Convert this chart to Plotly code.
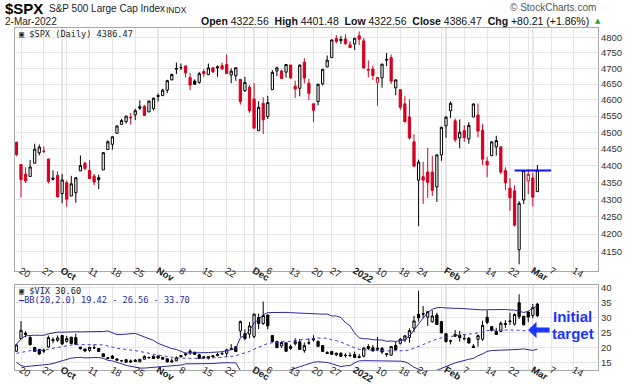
import numpy as np
import pandas as pd
import plotly.graph_objects as go

# ---------------- data ----------------
holidays = ["2021-11-25", "2021-12-24", "2022-01-17", "2022-02-21"]
first_session = "2021-09-17"
last_axis_session = "2022-03-16"

spx_open = [4469.74, 4402.95, 4374.45, 4367.43, 4406.75, 4438.04, 4442.12, 4419.54, 4362.41, 4370.67,
            4317.16, 4348.84, 4309.87, 4319.57, 4383.73, 4406.51, 4385.44, 4368.31, 4358.01, 4386.75, 4447.69,
            4463.72, 4497.34, 4524.42, 4532.24, 4546.12, 4553.69, 4578.69, 4580.22, 4562.84, 4572.87,
            4610.62, 4613.34, 4630.65, 4662.93, 4699.26, 4701.48, 4707.25, 4670.26, 4659.39, 4655.24,
            4689.30, 4679.42, 4701.50, 4700.72, 4708.44, 4712.00, 4678.48, 4675.78, 4664.63, 4628.75, 4640.25,
            4602.82, 4504.73, 4589.49, 4548.37, 4631.97, 4690.86, 4691.00, 4687.64, 4710.30, 4642.99,
            4636.46, 4719.13, 4652.50, 4587.90, 4594.96, 4650.36, 4703.96, 4733.99, 4795.49, 4788.64, 4794.23, 4775.21,
            4778.14, 4804.51, 4787.99, 4693.39, 4697.66, 4655.34, 4669.14, 4728.59, 4733.56, 4637.99,
            4632.24, 4588.03, 4547.35, 4471.38, 4356.32, 4366.64, 4380.58, 4380.58, 4336.19, 4431.79,
            4519.57, 4566.39, 4535.41, 4482.79, 4505.75, 4480.02, 4547.00, 4553.24, 4506.27, 4412.61,
            4429.28, 4455.75, 4456.06, 4384.57, 4332.74, 4324.93, 4155.77, 4298.38, 4354.17,
            4363.14, 4322.56]
spx_high = [4471.52, 4402.95, 4394.87, 4416.75, 4465.40, 4463.12, 4457.30, 4419.54, 4385.57, 4382.55,
            4375.19, 4355.51, 4369.23, 4365.57, 4429.97, 4412.02, 4415.88, 4374.89, 4372.87, 4439.73, 4475.82,
            4488.75, 4520.40, 4540.87, 4551.44, 4559.67, 4572.62, 4598.53, 4584.57, 4597.55, 4608.08,
            4620.34, 4635.15, 4663.46, 4683.00, 4718.50, 4714.92, 4708.53, 4684.85, 4664.55, 4688.47,
            4697.42, 4714.95, 4701.50, 4708.80, 4717.75, 4743.83, 4699.39, 4702.87, 4664.63, 4672.95, 4646.02,
            4652.94, 4595.46, 4608.03, 4612.60, 4694.04, 4705.06, 4695.26, 4713.57, 4710.30, 4660.47,
            4712.60, 4731.99, 4666.70, 4587.90, 4651.14, 4697.67, 4740.74, 4791.49, 4807.02, 4804.06, 4808.93, 4786.83,
            4796.64, 4818.62, 4797.70, 4725.01, 4707.95, 4673.02, 4714.13, 4748.83, 4744.13, 4665.13,
            4632.24, 4611.55, 4602.11, 4494.52, 4417.35, 4411.01, 4453.23, 4428.74, 4432.72, 4516.89,
            4550.49, 4595.31, 4542.88, 4539.66, 4521.86, 4531.32, 4590.03, 4588.92, 4526.33, 4426.22,
            4472.77, 4489.55, 4456.06, 4394.60, 4362.12, 4341.51, 4294.73, 4385.34, 4388.84,
            4378.45, 4401.48]
spx_low = [4427.76, 4305.91, 4347.96, 4367.43, 4406.75, 4430.27, 4436.19, 4346.33, 4355.08, 4306.24,
           4288.52, 4278.94, 4309.87, 4290.49, 4383.73, 4386.22, 4360.59, 4342.09, 4329.92, 4386.75, 4447.69,
           4447.47, 4496.41, 4524.40, 4526.89, 4524.00, 4537.36, 4569.17, 4551.66, 4562.84, 4567.59,
           4595.06, 4613.34, 4621.19, 4662.59, 4681.32, 4694.39, 4670.87, 4630.86, 4648.31, 4650.77,
           4672.86, 4679.42, 4684.41, 4672.78, 4694.22, 4682.17, 4652.66, 4659.89, 4585.43, 4625.26, 4560.00,
           4510.27, 4504.73, 4495.12, 4540.51, 4631.97, 4674.52, 4665.98, 4670.24, 4667.60, 4606.52,
           4611.22, 4651.89, 4600.22, 4531.10, 4583.16, 4645.53, 4703.96, 4733.99, 4780.04, 4778.08, 4775.33, 4765.75,
           4758.17, 4774.27, 4699.44, 4671.26, 4662.74, 4582.24, 4638.27, 4706.71, 4650.29, 4614.75,
           4568.70, 4530.20, 4477.95, 4395.34, 4222.62, 4287.11, 4304.80, 4309.50, 4292.46, 4414.02,
           4483.53, 4544.32, 4470.39, 4451.50, 4471.47, 4465.40, 4547.00, 4484.31, 4401.41, 4364.84,
           4429.28, 4429.68, 4373.81, 4327.22, 4267.11, 4221.51, 4114.65, 4286.83, 4315.12,
           4279.54, 4322.56]
spx_close = [4432.99, 4357.73, 4354.19, 4395.64, 4448.98, 4455.48, 4443.11, 4352.63, 4359.46, 4307.54,
             4357.04, 4300.46, 4345.72, 4363.55, 4399.76, 4391.34, 4361.19, 4350.65, 4363.80, 4438.26, 4471.37,
             4486.46, 4519.63, 4536.19, 4549.78, 4544.90, 4566.48, 4574.79, 4551.68, 4596.42, 4605.38,
             4613.67, 4630.65, 4660.57, 4680.06, 4697.53, 4701.70, 4685.25, 4646.71, 4649.27, 4682.85,
             4682.80, 4700.90, 4688.67, 4704.54, 4697.96, 4682.94, 4690.70, 4701.46, 4594.62, 4655.27, 4567.00,
             4513.04, 4577.10, 4538.43, 4591.67, 4686.75, 4701.21, 4667.45, 4712.02, 4668.97, 4634.09,
             4709.85, 4668.67, 4620.64, 4568.02, 4649.23, 4696.56, 4725.79, 4791.19, 4786.35, 4793.06, 4778.73, 4766.18,
             4796.56, 4793.54, 4700.58, 4696.05, 4677.03, 4670.29, 4713.07, 4726.35, 4659.03, 4662.85,
             4577.11, 4532.76, 4482.73, 4397.94, 4410.13, 4356.45, 4349.93, 4326.51, 4431.85, 4515.55,
             4546.54, 4589.38, 4477.44, 4500.53, 4483.87, 4521.54, 4587.18, 4504.08, 4418.64, 4401.67,
             4471.07, 4475.01, 4380.26, 4348.87, 4304.76, 4225.50, 4288.70, 4384.65, 4373.94,
             4306.26, 4386.47]
spx_prev_close = 4473.75  # close of the session before the first one shown

vix_open = [18.70, 22.96, 24.70, 23.30, 19.93, 19.32, 19.08, 20.10, 22.21, 22.32,
            23.96, 22.02, 23.41, 23.27, 20.06, 19.44, 18.99, 19.82, 19.62, 17.85, 16.50,
            17.09, 16.10, 15.54, 15.84, 15.05, 15.70, 15.13, 16.01, 16.65, 17.05,
            17.06, 16.64, 16.14, 15.06, 15.50, 16.90, 17.48, 18.19, 18.40, 17.50,
            16.84, 16.89, 16.79, 17.22, 17.80, 18.01, 19.54, 20.19, 25.50, 24.53, 24.44,
            23.66, 30.01, 27.97, 30.82, 23.99, 21.99, 20.48, 21.51, 19.58, 21.20,
            21.82, 18.92, 21.39, 22.49, 21.98, 20.62, 18.31, 18.58, 17.53, 18.03, 17.24, 17.31,
            17.60, 16.57, 17.07, 20.29, 19.85, 19.72, 19.66, 17.91, 17.37, 20.62,
            21.36, 22.44, 23.30, 26.45, 31.05, 31.29, 30.15, 28.58, 30.83, 28.61,
            24.56, 22.18, 23.73, 24.09, 23.01, 23.08, 20.40, 22.68, 22.73, 30.05,
            26.96, 25.30, 25.34, 28.00, 28.61, 27.78, 34.94, 30.43, 31.84,
            30.70, 34.50]
vix_high = [21.18, 28.79, 25.40, 23.90, 20.16, 19.40, 19.60, 23.98, 23.33, 23.99,
            24.01, 23.84, 23.51, 24.59, 20.20, 19.47, 20.15, 20.95, 19.71, 17.88, 16.80,
            17.37, 16.30, 15.78, 16.16, 15.95, 16.06, 16.08, 17.29, 16.77, 17.34,
            17.37, 16.66, 16.33, 16.28, 16.99, 17.38, 18.30, 19.38, 18.43, 17.70,
            17.11, 16.90, 17.40, 18.24, 18.58, 19.52, 21.08, 20.42, 28.99, 26.04, 28.49,
            31.42, 31.30, 35.32, 31.02, 24.07, 22.13, 22.01, 21.61, 20.94, 23.06,
            22.79, 21.62, 22.94, 24.03, 22.34, 20.71, 18.64, 18.69, 18.25, 18.32, 17.99, 18.28,
            18.54, 17.81, 20.17, 21.06, 20.80, 23.50, 20.08, 18.07, 20.44, 21.77,
            23.15, 24.16, 26.36, 30.58, 38.94, 33.88, 32.20, 32.44, 31.59, 28.90,
            24.71, 22.57, 25.81, 25.56, 24.23, 23.45, 21.08, 24.27, 28.95, 32.39,
            27.02, 26.57, 28.67, 29.14, 31.57, 31.41, 37.79, 30.52, 32.06,
            34.53, 34.88]
vix_low = [18.49, 22.77, 23.37, 20.67, 18.53, 17.52, 18.07, 19.95, 21.39, 21.83,
           20.76, 21.57, 20.98, 20.98, 19.25, 18.37, 18.53, 19.46, 18.43, 16.79, 15.98,
           16.19, 15.62, 15.01, 15.00, 14.79, 15.08, 15.10, 15.88, 16.23, 16.20,
           16.19, 15.96, 15.10, 14.92, 15.40, 16.50, 17.00, 17.46, 17.47, 16.26,
           16.22, 15.89, 16.37, 17.02, 17.49, 16.79, 19.38, 18.43, 23.50, 22.33, 23.04,
           23.07, 26.11, 27.53, 26.04, 21.75, 19.85, 19.80, 18.59, 19.15, 20.58,
           19.15, 18.19, 20.87, 21.91, 20.27, 18.52, 17.85, 17.54, 17.03, 16.86, 16.52, 16.79,
           16.60, 16.34, 16.58, 19.08, 18.71, 18.90, 17.84, 16.84, 17.19, 19.01,
           20.97, 21.87, 21.58, 25.08, 28.61, 29.74, 27.19, 28.29, 27.61, 24.82,
           21.57, 20.97, 23.44, 21.85, 22.31, 21.27, 19.92, 20.21, 22.19, 27.76,
           25.36, 24.13, 25.07, 26.53, 27.55, 27.31, 29.47, 27.31, 28.43,
           29.72, 30.14]
vix_close = [20.81, 25.71, 24.36, 20.87, 18.63, 17.75, 18.76, 23.25, 22.56, 23.14,
             21.15, 22.96, 21.30, 21.00, 19.54, 18.77, 20.00, 19.85, 18.64, 16.86, 16.30,
             16.30, 15.70, 15.49, 15.01, 15.43, 15.24, 15.98, 16.98, 16.53, 16.26,
             16.41, 16.03, 15.10, 15.44, 16.48, 17.22, 17.78, 18.73, 17.66, 16.29,
             16.49, 16.37, 17.11, 17.59, 17.91, 19.17, 19.38, 18.58, 28.62, 22.96, 27.19,
             31.12, 27.95, 30.67, 27.18, 21.89, 19.90, 21.58, 18.69, 20.31, 21.89,
             19.29, 20.57, 21.57, 22.87, 20.31, 18.63, 17.96, 17.68, 18.02, 16.95, 17.33, 17.22,
             16.60, 16.91, 19.73, 19.61, 18.76, 19.40, 18.41, 17.62, 20.31, 19.19,
             22.79, 23.85, 25.59, 28.85, 29.90, 31.16, 31.96, 30.49, 27.66, 24.83,
             21.96, 22.09, 24.35, 23.22, 22.86, 21.44, 19.96, 23.91, 27.36, 28.33,
             25.70, 24.29, 28.11, 27.75, 28.81, 31.02, 30.32, 27.59, 30.15,
             33.32, 30.60]
# closes of the 19 sessions before the first one shown (needed for the 20-day bands)
vix_prior_closes = [18.56, 17.15, 17.22, 16.79, 18.84, 16.39, 16.11, 16.48, 16.11, 16.41,
                    16.41, 18.00, 18.98, 18.80, 20.95, 19.37, 19.46, 18.18, 18.69]
bb_period = 20
bb_mult = 2.0

spx_ticks = [4150, 4200, 4250, 4300, 4350, 4400, 4450, 4500, 4550, 4600, 4650, 4700, 4750, 4800]
vix_ticks = [15, 20, 25, 30, 35, 40]

target_level = 4385
target_from = "2022-02-23"
target_to = "2022-03-07"
arrow_tip = "2022-02-28"
arrow_tail = "2022-03-07"
arrow_level = 25.8

# ---------------- sessions / positions ----------------
hol = pd.to_datetime(holidays)
sessions = [d for d in pd.bdate_range(first_session, last_axis_session) if d not in hol]
pos = {d.strftime("%Y-%m-%d"): i for i, d in enumerate(sessions)}
n = len(spx_close)
x = list(range(n))

week_starts, month_starts = [], []
for i in range(1, len(sessions)):
    if sessions[i].weekday() < sessions[i - 1].weekday():
        week_starts.append(i)
    if sessions[i].month != sessions[i - 1].month:
        month_starts.append(i)
month_names = {1: "2022", 2: "Feb", 3: "Mar", 10: "Oct", 11: "Nov", 12: "Dec"}
tickvals, ticktext = [], []
for i in sorted(set(week_starts) | set(month_starts)):
    if i in month_starts:
        tickvals.append(i)
        ticktext.append("<b>%s</b>" % month_names[sessions[i].month])
    else:
        near = any(abs(i - m) <= 2 for m in month_starts)
        tickvals.append(i)
        ticktext.append("" if near else str(sessions[i].day))

# ---------------- figure ----------------
RED = "#d7001f"
fig = go.Figure()

prev = [spx_prev_close] + spx_close[:-1]
black_i = [i for i in range(n) if spx_close[i] >= prev[i]]
red_i = [i for i in range(n) if spx_close[i] < prev[i]]


def pick(arr, idx):
    return [arr[i] for i in idx]


for idx, col in ((black_i, "#000000"), (red_i, RED)):
    fig.add_trace(go.Candlestick(
        x=pick(x, idx), open=pick(spx_open, idx), high=pick(spx_high, idx),
        low=pick(spx_low, idx), close=pick(spx_close, idx),
        increasing=dict(line=dict(color=col, width=1), fillcolor="#ffffff"),
        decreasing=dict(line=dict(color=col, width=1), fillcolor=col),
        xaxis="x", yaxis="y", showlegend=False, hoverinfo="skip"))

fig.add_trace(go.Scatter(x=[pos[target_from], pos[target_to]], y=[target_level, target_level],
                         mode="lines", line=dict(color="#1414ff", width=2),
                         xaxis="x", yaxis="y", showlegend=False, hoverinfo="skip"))

fig.add_trace(go.Candlestick(
    x=x, open=vix_open, high=vix_high, low=vix_low, close=vix_close,
    increasing=dict(line=dict(color="#000000", width=1), fillcolor="#ffffff"),
    decreasing=dict(line=dict(color="#000000", width=1), fillcolor="#000000"),
    xaxis="x2", yaxis="y2", showlegend=False, hoverinfo="skip"))

allc = pd.Series(vix_prior_closes + vix_close)
mid = allc.rolling(bb_period).mean()
sd = allc.rolling(bb_period).std(ddof=0)
upper = (mid + bb_mult * sd).iloc[-n:].tolist()
lower = (mid - bb_mult * sd).iloc[-n:].tolist()
mid = mid.iloc[-n:].tolist()

BB = "#2a2a9a"
fig.add_trace(go.Scatter(x=x, y=upper, mode="lines", line=dict(color=BB, width=1),
                         xaxis="x2", yaxis="y2", showlegend=False, hoverinfo="skip"))
fig.add_trace(go.Scatter(x=x, y=lower, mode="lines", line=dict(color=BB, width=1),
                         xaxis="x2", yaxis="y2", showlegend=False, hoverinfo="skip"))
fig.add_trace(go.Scatter(x=x, y=mid, mode="lines", line=dict(color="#3a3ad0", width=1, dash="dot"),
                         xaxis="x2", yaxis="y2", showlegend=False, hoverinfo="skip"))

# ---------------- layout ----------------
W, H = 638, 384
L, R, T, B = 15, 40, 28, 14
split_top, split_bot = 270.7, 285
ph = H - T - B


def py(ypx):
    return (H - B - ypx) / ph


def px(xpx):
    return (xpx - L) / (W - L - R)


xr = [-0.313, 127.26]
axis_common = dict(range=xr, tickvals=tickvals, ticktext=ticktext, showgrid=True,
                   gridcolor="#e6e6e6", gridwidth=1, zeroline=False, showline=True,
                   linecolor="#a8a8a8", linewidth=1, mirror=True, ticks="", automargin=False,
                   ticklabelstandoff=-10,
                   tickfont=dict(family="Liberation Sans", size=9.6, color="#222"),
                   rangeslider=dict(visible=False), fixedrange=True)
yfont = dict(family="Liberation Sans", size=9.5, color="#333")
fig.update_layout(
    width=W, height=H, margin=dict(l=L, r=R, t=T, b=B, autoexpand=False),
    paper_bgcolor="white", plot_bgcolor="rgba(0,0,0,0)",
    xaxis=dict(anchor="y", domain=[0, 1], **axis_common),
    xaxis2=dict(anchor="y2", domain=[0, 1], **axis_common),
    yaxis=dict(domain=[py(split_top), 1], type="log",
               range=[np.log10(4097), np.log10(4830)], side="right",
               tickvals=spx_ticks, ticktext=[str(v) for v in spx_ticks],
               showgrid=True, gridcolor="#e6e6e6", zeroline=False, showline=True,
               linecolor="#a8a8a8", mirror=True, ticks="", tickfont=yfont, automargin=False,
               fixedrange=True),
    yaxis2=dict(domain=[0, py(split_bot)], range=[12.4, 40.9], side="right",
                tickvals=vix_ticks, showgrid=True, gridcolor="#e6e6e6", zeroline=False,
                showline=True, linecolor="#a8a8a8", mirror=True, ticks="", tickfont=yfont,
                automargin=False, fixedrange=True),
    showlegend=False,
)

shapes = []
for m in month_starts:
    for xa, ya in (("x", "y domain"), ("x2", "y2 domain")):
        shapes.append(dict(type="line", xref=xa, yref=ya, x0=m, x1=m, y0=0, y1=1,
                           line=dict(color="#c4c4c4", width=1), layer="below"))
fig.update_layout(shapes=shapes)

last = n - 1
chg = spx_close[last] - spx_close[last - 1]
pct = chg / spx_close[last - 1] * 100
F = "Liberation Sans"
ann = [
    dict(x=px(3), y=py(9), text="<b>$SPX</b>", xanchor="left", font=dict(family=F, size=15, color="#000")),
    dict(x=px(47), y=py(9), text="S&P 500 Large Cap Index", xanchor="left",
         font=dict(family=F, size=10, color="#222")),
    dict(x=px(164), y=py(9.5), text="INDX", xanchor="left", font=dict(family=F, size=8.5, color="#222")),
    dict(x=px(3), y=py(22), text=sessions[last].strftime("%-d-%b-%Y"), xanchor="left",
         font=dict(family=F, size=10, color="#222")),
    dict(x=px(598), y=py(8), text="© StockCharts.com", xanchor="right",
         font=dict(family=F, size=10, color="#555")),
    dict(x=px(591), y=py(21), xanchor="right",
         text="<b>Open</b> %.2f  <b>High</b> %.2f  <b>Low</b> %.2f  <b>Close</b> %.2f  <b>Chg</b> %+.2f (%+.2f%%)"
              % (spx_open[last], spx_high[last], spx_low[last], spx_close[last], chg, pct),
         font=dict(family=F, size=10.5, color="#111")),
    dict(x=px(593), y=py(21), text="▲", xanchor="left", font=dict(family="DejaVu Sans", size=7, color="#2e9e2e")),
    dict(x=px(17), y=py(33.5), xanchor="left",
         text="▣ $SPX (Daily) %.2f" % spx_close[last],
         font=dict(family="DejaVu Sans Mono", size=8.6, color="#222")),
    dict(x=px(17), y=py(290.5), xanchor="left", text="▣ $VIX %.2f" % vix_close[last],
         font=dict(family="DejaVu Sans Mono", size=8.6, color="#222")),
    dict(x=px(17), y=py(299.5), xanchor="left", text="<b>—</b>BB(20,2.0) 19.42 - 26.56 - 33.70",
         font=dict(family="DejaVu Sans Mono", size=8.6, color=BB)),
]
for a in ann:
    a.update(xref="paper", yref="paper", showarrow=False, yanchor="middle")

ann += [
    dict(x=pos[arrow_tip], y=arrow_level, ax=pos[arrow_tail], ay=arrow_level,
         xref="x2", yref="y2", axref="x2", ayref="y2", text="", showarrow=True,
         arrowhead=1, arrowwidth=5, arrowsize=0.55, arrowcolor="#1a36ff"),
    dict(x=121.7, y=30.2, xref="x2", yref="y2", text="<b>Initial</b>", showarrow=False,
         font=dict(family=F, size=15, color="#1a36ff")),
    dict(x=121.7, y=24.8, xref="x2", yref="y2", text="<b>target</b>", showarrow=False,
         font=dict(family=F, size=15, color="#1a36ff")),
]
fig.update_layout(annotations=ann)

fig.write_html("out.html", config={"displayModeBar": False, "staticPlot": True},
               post_script="document.body.style.margin='0px';")
